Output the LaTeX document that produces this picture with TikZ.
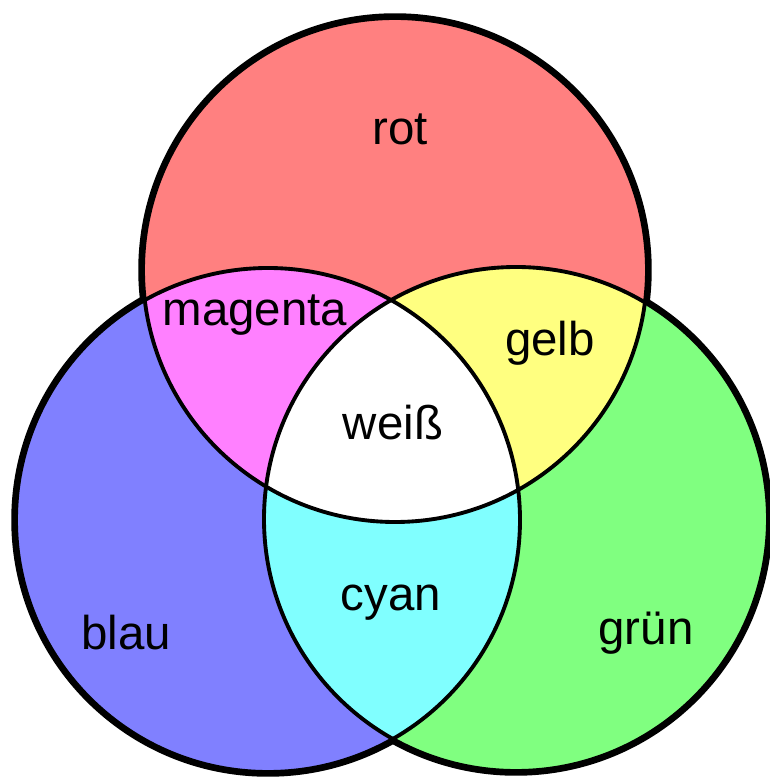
\documentclass[tikz,border=0pt]{standalone}
\usepackage{fontspec}
\setmainfont{Liberation Sans}
\usepackage{tikz}
\usetikzlibrary{positioning}
\definecolor{rotfb}{HTML}{FF8080}
\definecolor{blaufb}{HTML}{8080FF}
\definecolor{gruenfb}{HTML}{80FF80}
\definecolor{magentafb}{HTML}{FF80FF}
\definecolor{gelbfb}{HTML}{FFFF80}
\definecolor{cyanfb}{HTML}{80FFFF}

\begin{document}
\begin{tikzpicture}[x=0.02cm, y=0.02cm,
    rim/.style={line width=5.4pt},
    edge/.style={line width=2.2pt},
    lbl/.style={font=\fontsize{27}{32}\selectfont, anchor=base, inner sep=0pt}]
    \useasboundingbox (0,0) rectangle (770,779);
    \def\rad{252}
    \coordinate (R) at (395,509);
    \coordinate (B) at (268,259);
    \coordinate (G) at (516,260);
    % outer rim, inner half gets covered by the fills
    \foreach \c in {R,B,G}
        \draw[rim] (\c) circle[radius=\rad];
    \fill[rotfb] (R) circle[radius=\rad];
    \fill[blaufb] (B) circle[radius=\rad];
    \fill[gruenfb] (G) circle[radius=\rad];
    \begin{scope}
        \clip (R) circle[radius=\rad];
        \fill[magentafb] (B) circle[radius=\rad];
        \fill[gelbfb] (G) circle[radius=\rad];
    \end{scope}
    \begin{scope}
        \clip (B) circle[radius=\rad];
        \fill[cyanfb] (G) circle[radius=\rad];
        \clip (R) circle[radius=\rad];
        \fill[white] (G) circle[radius=\rad];
    \end{scope}
    \foreach \c in {R,B,G}
        \draw[edge] (\c) circle[radius=\rad];
    \node[lbl] (rot) at (400,634) {rot};
    \node[lbl] (magenta) at (255,453) {magenta};
    \node[lbl] (gelb) at (550,423) {gelb};
    \node[lbl] (weiss) at (393,339) {weiß};
    \node[lbl] (cyan) at (391,168) {cyan};
    \node[lbl] (blau) at (126,130) {blau};
    \node[lbl] (gruen) at (646,134) {grün};
\end{tikzpicture}
\end{document}
